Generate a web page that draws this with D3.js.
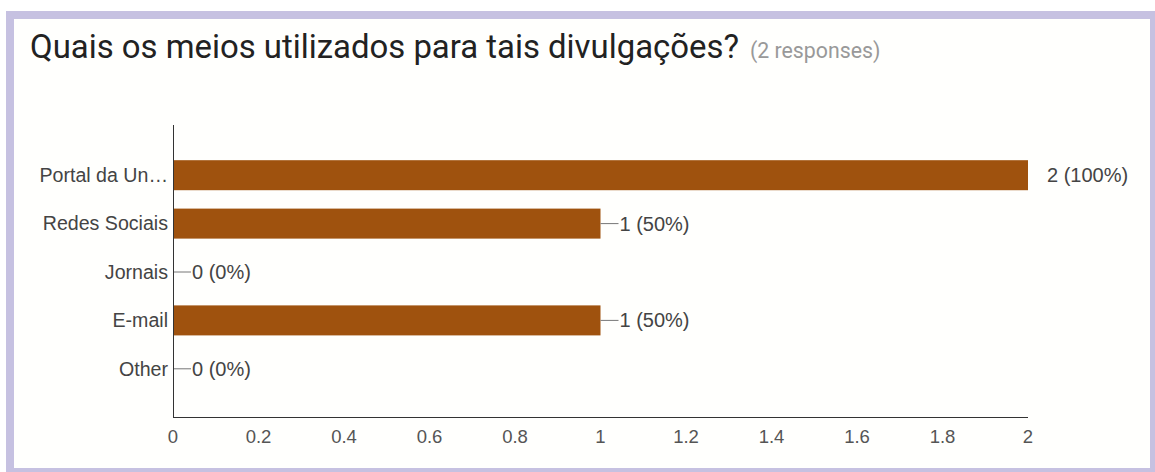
<!DOCTYPE html>
<html>
<head>
<meta charset="utf-8">
<script src="https://cdn.jsdelivr.net/npm/d3@7"></script>
<style>
  html, body { margin: 0; padding: 0; background: #fff; }
  svg { display: block; }
</style>
</head>
<body>
<div id="chart"></div>
<script>
// chart data
const categories = ["Portal da Un…", "Redes Sociais", "Jornais", "E-mail", "Other"];
const counts = [2, 1, 0, 1, 0];
const percents = ["100%", "50%", "0%", "50%", "0%"];
const xTicks = [0, 0.2, 0.4, 0.6, 0.8, 1, 1.2, 1.4, 1.6, 1.8, 2];
const titleText = "Quais os meios utilizados para tais divulgações?";
const responsesText = "(2 responses)";

const width = 1155, height = 472;
const barColor = "#9f520e";

const svg = d3.select("#chart").append("svg")
    .attr("width", width)
    .attr("height", height);

// card with purple frame
svg.append("rect")
    .attr("x", 10).attr("y", 15)
    .attr("width", 1144).attr("height", 457)
    .attr("fill", "#fffffd")
    .attr("stroke", "#c6c1e1")
    .attr("stroke-width", 8);

// title
const title = svg.append("text")
    .attr("x", 30).attr("y", 58)
    .attr("font-family", "Roboto, sans-serif")
    .attr("font-size", 32.9)
    .attr("fill", "#222");
title.append("tspan").text(titleText);
title.append("tspan")
    .attr("dx", 11)
    .attr("font-size", 21.3)
    .attr("fill", "#999")
    .text(responsesText);

// scales
const x = d3.scaleLinear().domain([0, 2]).range([173, 1028]);
const y = d3.scaleBand().domain(categories).range([151, 393]).paddingInner(0.38).paddingOuter(0.19);

const labelFont = "'Liberation Sans', Arial, sans-serif";

// bars
svg.selectAll("rect.bar")
    .data(categories)
    .enter().append("rect")
    .attr("class", "bar")
    .attr("x", x(0))
    .attr("y", d => y(d))
    .attr("width", (d, i) => x(counts[i]) - x(0))
    .attr("height", y.bandwidth())
    .attr("fill", barColor);

// value labels
categories.forEach(function(c, i) {
    const cy = y(c) + y.bandwidth() / 2;
    const xe = x(counts[i]);
    let tx;
    if (counts[i] === d3.max(counts)) {
        tx = xe + 19;
    } else {
        svg.append("line")
            .attr("x1", xe).attr("x2", xe + 18)
            .attr("y1", cy).attr("y2", cy)
            .attr("stroke", "#777").attr("stroke-width", 1);
        tx = xe + 19;
    }
    svg.append("text")
        .attr("x", tx).attr("y", cy)
        .attr("dy", "0.35em")
        .attr("font-family", labelFont)
        .attr("font-size", 20)
        .attr("fill", "#444")
        .text(counts[i] + " (" + percents[i] + ")");
});

// category labels
svg.selectAll("text.cat")
    .data(categories)
    .enter().append("text")
    .attr("class", "cat")
    .attr("x", 168)
    .attr("y", d => y(d) + y.bandwidth() / 2)
    .attr("dy", "0.35em")
    .attr("text-anchor", "end")
    .attr("font-family", labelFont)
    .attr("font-size", 19.6)
    .attr("fill", "#444")
    .text(d => d);

// axes lines
svg.append("line")
    .attr("x1", 173.5).attr("x2", 173.5)
    .attr("y1", 125).attr("y2", 417.5)
    .attr("stroke", "#333").attr("stroke-width", 1);
svg.append("line")
    .attr("x1", 173).attr("x2", x(2))
    .attr("y1", 417.5).attr("y2", 417.5)
    .attr("stroke", "#333").attr("stroke-width", 1);

// x tick labels
svg.selectAll("text.tick")
    .data(xTicks)
    .enter().append("text")
    .attr("class", "tick")
    .attr("x", d => x(d))
    .attr("y", 443)
    .attr("text-anchor", "middle")
    .attr("font-family", labelFont)
    .attr("font-size", 18.5)
    .attr("fill", "#555")
    .text(d => d);
</script>
</body>
</html>
